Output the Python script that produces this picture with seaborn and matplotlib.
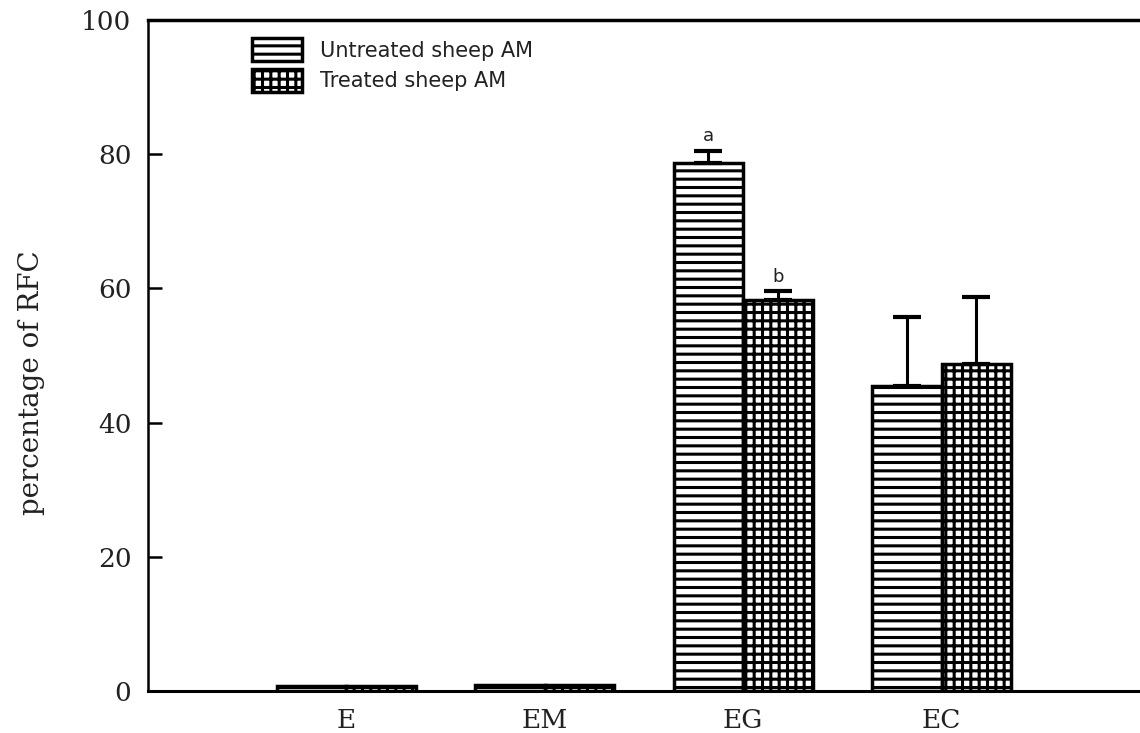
import matplotlib
matplotlib.use("Agg")
import matplotlib.pyplot as plt
import matplotlib.patches as mpatches
import pandas as pd
import seaborn as sns

# Rosette-forming cell percentages per rosette type
categories = ["E", "EM", "EG", "EC"]
groups = ["Untreated sheep AM", "Treated sheep AM"]
untreated = [0.7, 0.9, 78.7, 45.5]
treated = [0.7, 0.9, 58.3, 48.7]
untreated_err = [0.0, 0.0, 1.8, 10.2]
treated_err = [0.0, 0.0, 1.3, 10.0]
letters = {("EG", 0): "a", ("EG", 1): "b"}

sns.set_theme(style="white")
plt.rcParams["hatch.linewidth"] = 2.2
plt.rcParams["hatch.color"] = "black"

df = pd.DataFrame({
    "cell": categories * 2,
    "pct": untreated + treated,
    "group": [groups[0]] * len(categories) + [groups[1]] * len(categories),
})

fig = plt.figure(figsize=(11.4, 7.33), dpi=100)
ax = fig.add_axes([148 / 1140, 42 / 733, 1 - 148 / 1140, 671 / 733])

sns.barplot(data=df, x="cell", y="pct", hue="group", order=categories,
            hue_order=groups, palette=["white", "white"], width=0.7, gap=0,
            edgecolor="black", linewidth=2.5, errorbar=None, legend=False,
            ax=ax)

hatches = ["--", "++"]
errs = [untreated_err, treated_err]
vals = [untreated, treated]
bar_containers = list(ax.containers)
for gi, cont in enumerate(bar_containers):
    for ci, bar in enumerate(cont):
        bar.set_hatch(hatches[gi])
        bar.set_edgecolor("black")
        xc = bar.get_x() + bar.get_width() / 2
        top = vals[gi][ci]
        e = errs[gi][ci]
        if e > 0:
            ax.errorbar(xc, top, yerr=[[0], [e]], fmt="none", ecolor="black",
                        elinewidth=2.2, capsize=10, capthick=3, zorder=1)
        lab = letters.get((categories[ci], gi))
        if lab:
            ax.text(xc, top + e + 0.8, lab, ha="center", va="bottom",
                    fontsize=13, family="DejaVu Sans", color="#222222")

ax.set_xlim(-1, 4)
ax.set_ylim(0, 100)
ax.set_yticks([0, 20, 40, 60, 80, 100])
ax.set_xlabel("")
ax.set_ylabel("percentage of RFC", family="DejaVu Serif", fontsize=20,
              color="#222222")
ax.yaxis.set_label_coords(-0.104, 0.46)

for lbl in ax.get_yticklabels() + ax.get_xticklabels():
    lbl.set_family("DejaVu Serif")
    lbl.set_fontsize(19)
    lbl.set_color("#222222")

ax.tick_params(axis="y", direction="in", length=10, width=1.8, pad=12,
               left=True, color="black")
ax.tick_params(axis="x", length=0, pad=12)

ax.spines["right"].set_visible(False)
for side, lw in [("left", 1.8), ("top", 2.5), ("bottom", 2.2)]:
    ax.spines[side].set_color("black")
    ax.spines[side].set_linewidth(lw)

handles = [mpatches.Patch(facecolor="white", edgecolor="black", linewidth=2.5,
                          hatch=h, label=g) for h, g in zip(hatches, groups)]
fig.legend(handles=handles, loc="upper left",
           bbox_to_anchor=(252 / 1140, 1 - 38 / 733), frameon=False,
           prop={"family": "DejaVu Sans", "size": 15}, handlelength=2.4,
           handleheight=1.35, labelspacing=0.35, handletextpad=0.85,
           borderpad=0, borderaxespad=0, labelcolor="#222222")

fig.savefig("out.png", dpi=100)
